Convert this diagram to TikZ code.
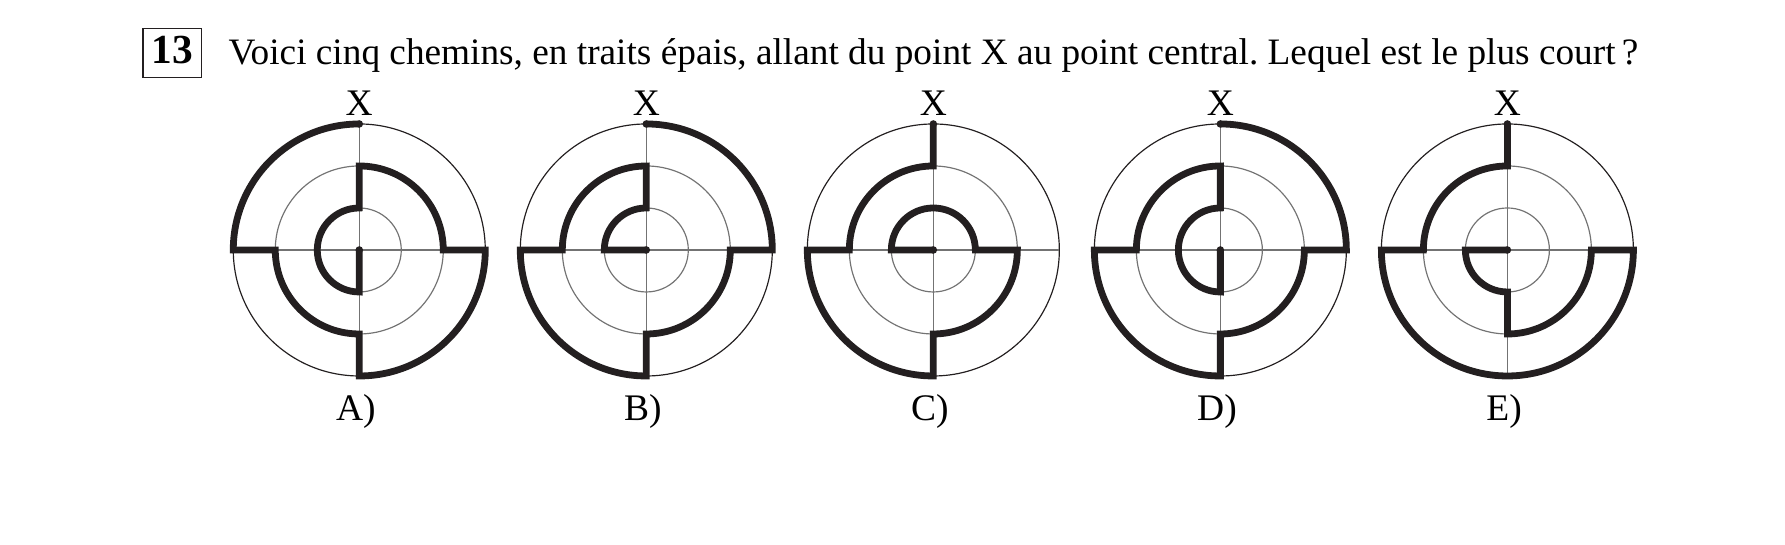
\documentclass[tikz,border=0pt]{standalone}
\usepackage{fontspec}
\setmainfont{Liberation Serif}
\frenchspacing
\definecolor{inkblack}{RGB}{35,31,32}
\tikzset{
  thinrim/.style={line width=0.4pt,draw=inkblack},
  thingrid/.style={line width=0.4pt,draw=black!55},
  chemin/.style={line width=2.3pt,draw=inkblack},
  pointnoir/.style={fill=inkblack},
  lettre/.style={font=\fontsize{12.7}{15}\selectfont,anchor=base,inner sep=0pt}
}

\begin{document}
\begin{tikzpicture}
\useasboundingbox (0,0) rectangle (21.250,6.488);

\node[draw=inkblack,line width=0.5pt,minimum width=0.696cm,minimum height=0.582cm,inner sep=0pt] (numbox) at (2.050,5.857) {};
\node[anchor=base,inner sep=0pt] (numero) at (2.050,5.730) {\fontsize{14}{15}\selectfont\bfseries 13};
\node[anchor=base west,inner sep=0pt,font=\fontsize{12.63}{15}\selectfont] (question) at (2.714,5.720) {Voici cinq chemins, en traits épais, allant du point X au point central. Lequel est le plus court\,?};

% A
\begin{scope}[shift={(4.277,3.512)}]
\draw[thinrim] (0,0) circle (1.5);
\draw[thingrid] (0,0) circle (1) (0,0) circle (0.5);
\draw[thingrid] (-1.5,0) -- (1.5,0) (0,-1.5) -- (0,1.5);
\draw[chemin] (0,1.5) arc[start angle=90,end angle=180,radius=1.5] -- (-1,0)
  arc[start angle=180,end angle=270,radius=1] -- (0,-1.5)
  arc[start angle=270,end angle=360,radius=1.5] -- (1,0)
  arc[start angle=0,end angle=90,radius=1] -- (0,0.5)
  arc[start angle=90,end angle=270,radius=0.5] -- (0,0);
\fill[pointnoir] (0,1.5) circle (0.045);
\fill[pointnoir] (0,0) circle (0.045);
\node[lettre] (xa) at (0,1.595) {X};
\node[lettre] (la) at (-0.040,-2.030) {A)};
\end{scope}

% B
\begin{scope}[shift={(7.694,3.512)}]
\draw[thinrim] (0,0) circle (1.5);
\draw[thingrid] (0,0) circle (1) (0,0) circle (0.5);
\draw[thingrid] (-1.5,0) -- (1.5,0) (0,-1.5) -- (0,1.5);
\draw[chemin] (0,1.5) arc[start angle=90,end angle=0,radius=1.5] -- (1,0)
  arc[start angle=0,end angle=-90,radius=1] -- (0,-1.5)
  arc[start angle=270,end angle=180,radius=1.5] -- (-1,0)
  arc[start angle=180,end angle=90,radius=1] -- (0,0.5)
  arc[start angle=90,end angle=180,radius=0.5] -- (0,0);
\fill[pointnoir] (0,1.5) circle (0.045);
\fill[pointnoir] (0,0) circle (0.045);
\node[lettre] (xb) at (0,1.595) {X};
\node[lettre] (lb) at (-0.040,-2.030) {B)};
\end{scope}

% C
\begin{scope}[shift={(11.111,3.512)}]
\draw[thinrim] (0,0) circle (1.5);
\draw[thingrid] (0,0) circle (1) (0,0) circle (0.5);
\draw[thingrid] (-1.5,0) -- (1.5,0) (0,-1.5) -- (0,1.5);
\draw[chemin] (0,1.5) -- (0,1)
  arc[start angle=90,end angle=180,radius=1] -- (-1.5,0)
  arc[start angle=180,end angle=270,radius=1.5] -- (0,-1)
  arc[start angle=270,end angle=360,radius=1] -- (0.5,0)
  arc[start angle=0,end angle=180,radius=0.5] -- (0,0);
\fill[pointnoir] (0,1.5) circle (0.045);
\fill[pointnoir] (0,0) circle (0.045);
\node[lettre] (xc) at (0,1.595) {X};
\node[lettre] (lc) at (-0.040,-2.030) {C)};
\end{scope}

% D
\begin{scope}[shift={(14.528,3.512)}]
\draw[thinrim] (0,0) circle (1.5);
\draw[thingrid] (0,0) circle (1) (0,0) circle (0.5);
\draw[thingrid] (-1.5,0) -- (1.5,0) (0,-1.5) -- (0,1.5);
\draw[chemin] (0,1.5) arc[start angle=90,end angle=0,radius=1.5] -- (1,0)
  arc[start angle=0,end angle=-90,radius=1] -- (0,-1.5)
  arc[start angle=270,end angle=180,radius=1.5] -- (-1,0)
  arc[start angle=180,end angle=90,radius=1] -- (0,0.5)
  arc[start angle=90,end angle=270,radius=0.5] -- (0,0);
\fill[pointnoir] (0,1.5) circle (0.045);
\fill[pointnoir] (0,0) circle (0.045);
\node[lettre] (xd) at (0,1.595) {X};
\node[lettre] (ld) at (-0.040,-2.030) {D)};
\end{scope}

% E
\begin{scope}[shift={(17.945,3.512)}]
\draw[thinrim] (0,0) circle (1.5);
\draw[thingrid] (0,0) circle (1) (0,0) circle (0.5);
\draw[thingrid] (-1.5,0) -- (1.5,0) (0,-1.5) -- (0,1.5);
\draw[chemin] (0,1.5) -- (0,1)
  arc[start angle=90,end angle=180,radius=1] -- (-1.5,0)
  arc[start angle=180,end angle=360,radius=1.5] -- (1,0)
  arc[start angle=0,end angle=-90,radius=1] -- (0,-0.5)
  arc[start angle=270,end angle=180,radius=0.5] -- (0,0);
\fill[pointnoir] (0,1.5) circle (0.045);
\fill[pointnoir] (0,0) circle (0.045);
\node[lettre] (xe) at (0,1.595) {X};
\node[lettre] (le) at (-0.040,-2.030) {E)};
\end{scope}
\end{tikzpicture}
\end{document}
